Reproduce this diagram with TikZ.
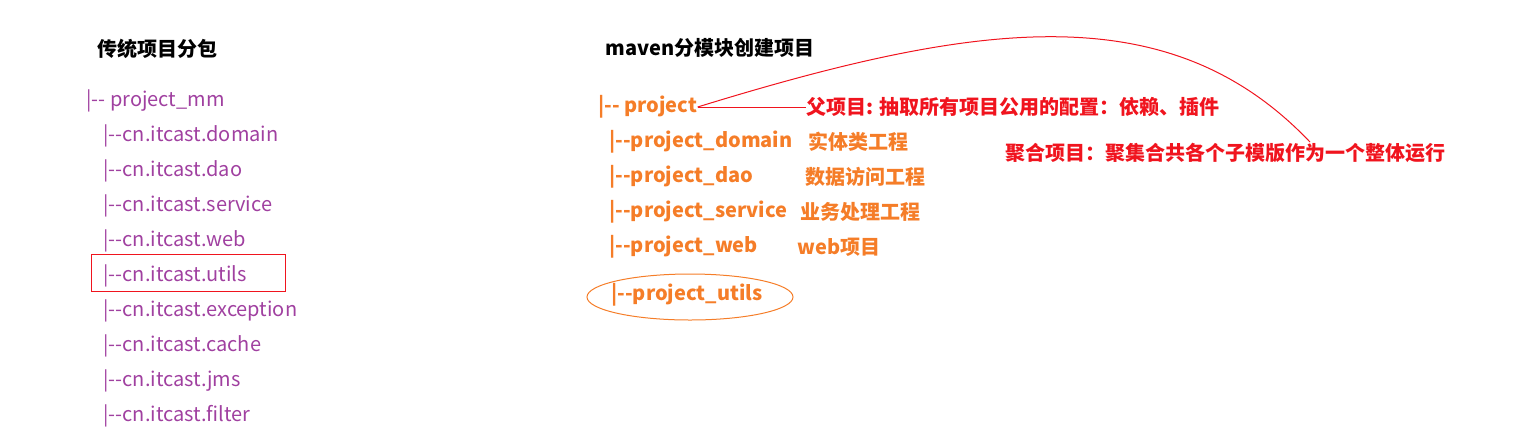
\documentclass[tikz,border=0pt]{standalone}
\usepackage{fontspec}
\setmainfont{Noto Sans CJK SC}
\definecolor{pkgpurple}{RGB}{160,64,160}
\definecolor{modorange}{RGB}{245,125,40}
\definecolor{notered}{RGB}{240,20,30}

\begin{document}
\begin{tikzpicture}[x=0.5pt, y=-0.5pt,
        title/.style={anchor=west, inner sep=0pt, yshift=-1pt, font=\fontsize{10}{12}\selectfont\bfseries, text=black},
        pkg/.style={anchor=west, inner sep=0pt, yshift=-1pt, font=\fontsize{10}{12}\selectfont, text=pkgpurple},
        module/.style={anchor=west, inner sep=0pt, yshift=-1pt, font=\fontsize{10}{12}\selectfont\bfseries, text=modorange},
        note/.style={anchor=west, inner sep=0pt, yshift=-1pt, font=\fontsize{10}{12}\selectfont\bfseries, text=notered},
        mark_box/.style={draw=notered, line width=0.5pt},
        link/.style={draw=notered, line width=0.5pt}
    ]
    \useasboundingbox (0,0) rectangle (1539,441);

    % Left Section: traditional package layout
    \node[title] (t1) at (97, 47) {传统项目分包};
    \node[pkg] (root) at (86, 99) {|-{}- project\_mm};
    \node[pkg] (p1) at (103, 134) {|-{}-cn.itcast.domain};
    \node[pkg] (p2) at (103, 169) {|-{}-cn.itcast.dao};
    \node[pkg] (p3) at (103, 204) {|-{}-cn.itcast.service};
    \node[pkg] (p4) at (103, 239) {|-{}-cn.itcast.web};
    \node[pkg] (p5) at (103, 274) {|-{}-cn.itcast.utils};
    \node[pkg] (p6) at (103, 309) {|-{}-cn.itcast.exception};
    \node[pkg] (p7) at (103, 344) {|-{}-cn.itcast.cache};
    \node[pkg] (p8) at (103, 379) {|-{}-cn.itcast.jms};
    \node[pkg] (p9) at (103, 414) {|-{}-cn.itcast.filter};

    % utils package marked
    \draw[mark_box] (91, 254) rectangle (285, 291);

    % Right Section: maven modules
    \node[title] (t2) at (605, 46) {maven分模块创建项目};
    \node[module] (proj) at (598, 105) {|-{}- project};
    \node[module] (m1) at (609, 140) {|-{}-project\_domain};
    \node[module] (m2) at (609, 175) {|-{}-project\_dao};
    \node[module] (m3) at (609, 210) {|-{}-project\_service};
    \node[module] (m4) at (609, 245) {|-{}-project\_web};
    \node[module] (m5) at (611, 293) {|-{}-project\_utils};

    % module descriptions
    \node[module] (d1) at (808, 140) {实体类工程};
    \node[module] (d2) at (805, 175) {数据访问工程};
    \node[module] (d3) at (800, 210) {业务处理工程};
    \node[module] (d4) at (797, 245) {web项目};

    % utils module circled
    \draw[modorange, line width=0.5pt] (690, 297) ellipse (103 and 23);

    % parent / aggregate notes
    \node[note] (parent) at (806, 105) {父项目: 抽取所有项目公用的配置：依赖、插件};
    \node[note] (agg) at (1005, 151) {聚合项目：聚集合共各个子模版作为一个整体运行};
    \coordinate (agg_end) at (1310, 142);

    \draw[link] (proj.east) -- (parent.west);
    \draw[link] (proj.east) .. controls (980, 20) and (1170, -5) .. (agg_end);

\end{tikzpicture}
\end{document}
